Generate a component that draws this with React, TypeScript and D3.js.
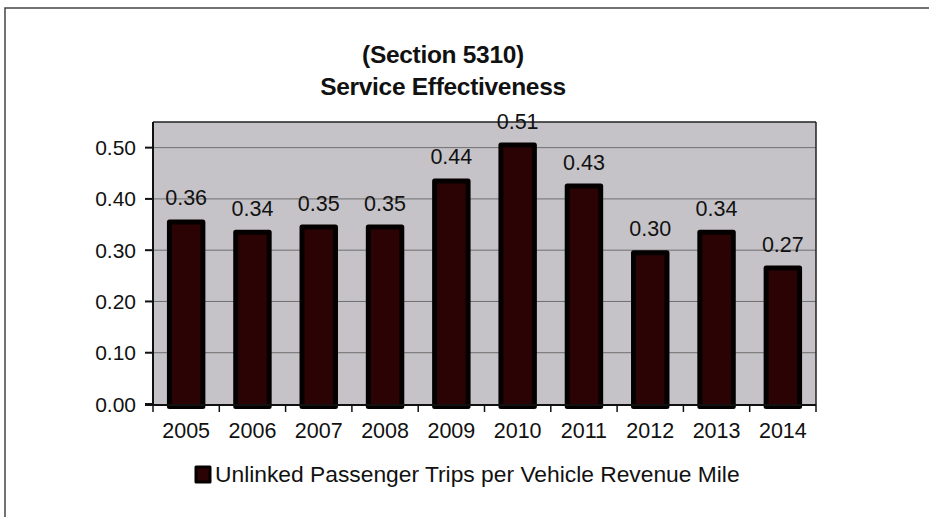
import React from 'react';
import * as d3 from 'd3';

const years = ['2005', '2006', '2007', '2008', '2009', '2010', '2011', '2012', '2013', '2014'];
const tripsPerMile = [0.36, 0.34, 0.35, 0.35, 0.44, 0.51, 0.43, 0.30, 0.34, 0.27];
const yTicks = [0, 0.1, 0.2, 0.3, 0.4, 0.5];
const titleLines = ['(Section 5310)', 'Service Effectiveness'];
const legendLabel = 'Unlinked Passenger Trips per Vehicle Revenue Mile';

const W = 929;
const H = 517;
const plot = { left: 153, top: 122, right: 816, bottom: 404 };
const font = 'Arial, "Liberation Sans", sans-serif';

const App: React.FC = () => {
  const x = d3.scaleBand<string>()
    .domain(years)
    .range([plot.left, plot.right])
    .paddingInner(0.42)
    .paddingOuter(0.21);

  const y = d3.scaleLinear()
    .domain([0, 0.55])
    .range([plot.bottom, plot.top]);

  // category boundaries for x tick marks
  const step = (plot.right - plot.left) / years.length;
  const xTickPos = d3.range(years.length + 1).map(i => plot.left + i * step);
  const stroke = 5;

  return (
    <svg width={W} height={H} style={{ position: 'absolute', left: 0, top: 0, background: '#fff' }}>
      {/* outer chart frame */}
      <rect x={5} y={8} width={1000} height={600} fill="#fff" stroke="#444" strokeWidth={1.5} />

      {/* title */}
      {titleLines.map((t, i) => (
        <text key={t} x={443} y={63 + i * 32} textAnchor="middle" fontFamily={font}
          fontWeight="bold" fontSize={24.5} letterSpacing={-0.3} fill="#111">{t}</text>
      ))}

      {/* plot area */}
      <rect x={plot.left} y={plot.top} width={plot.right - plot.left} height={plot.bottom - plot.top}
        fill="#c5c3c7" />
      {yTicks.filter(v => v > 0).map(v => (
        <line key={v} x1={plot.left} x2={plot.right} y1={y(v)} y2={y(v)} stroke="#6e6e6e" strokeWidth={1} />
      ))}
      <line x1={plot.left} x2={plot.right} y1={plot.top} y2={plot.top} stroke="#222" strokeWidth={1.5} />
      <line x1={plot.right} x2={plot.right} y1={plot.top} y2={plot.bottom} stroke="#222" strokeWidth={1.5} />

      {/* bars */}
      {years.map((yr, i) => {
        const bx = x(yr)!;
        const bw = x.bandwidth();
        const top = y(tripsPerMile[i]);
        return (
          <g key={yr}>
            <rect x={bx + stroke / 2} y={top + stroke / 2} width={bw - stroke}
              height={plot.bottom - top} fill="#2c0305" stroke="#050000"
              strokeWidth={stroke} strokeLinejoin="round" />
            <text x={bx + bw / 2} y={top - 14} textAnchor="middle" fontFamily={font}
              fontSize={21.5} fill="#111">{tripsPerMile[i].toFixed(2)}</text>
          </g>
        );
      })}

      {/* axes */}
      <line x1={plot.left} x2={plot.left} y1={plot.top} y2={plot.bottom + 1} stroke="#111" strokeWidth={2} />
      <line x1={plot.left - 8} x2={plot.right} y1={plot.bottom + 1} y2={plot.bottom + 1} stroke="#111" strokeWidth={2} />
      {yTicks.map(v => (
        <g key={v}>
          <line x1={plot.left - 8} x2={plot.left} y1={y(v)} y2={y(v)} stroke="#111" strokeWidth={2} />
          <text x={136} y={y(v) + 7.5} textAnchor="end" fontFamily={font} fontSize={21} fill="#111">
            {v.toFixed(2)}
          </text>
        </g>
      ))}
      {xTickPos.map((p, i) => (
        <line key={i} x1={p} x2={p} y1={plot.bottom} y2={plot.bottom + 8} stroke="#111" strokeWidth={1.5} />
      ))}
      {years.map(yr => (
        <text key={yr} x={x(yr)! + x.bandwidth() / 2} y={438} textAnchor="middle" fontFamily={font}
          fontSize={21.5} fill="#111">{yr}</text>
      ))}

      {/* legend */}
      <rect x={196} y={467} width={14} height={15} fill="#2c0305" stroke="#050000" strokeWidth={3}
        strokeLinejoin="round" />
      <text x={215} y={482} fontFamily={font} fontSize={22.8} fill="#111">{legendLabel}</text>
    </svg>
  );
};

export default App;
